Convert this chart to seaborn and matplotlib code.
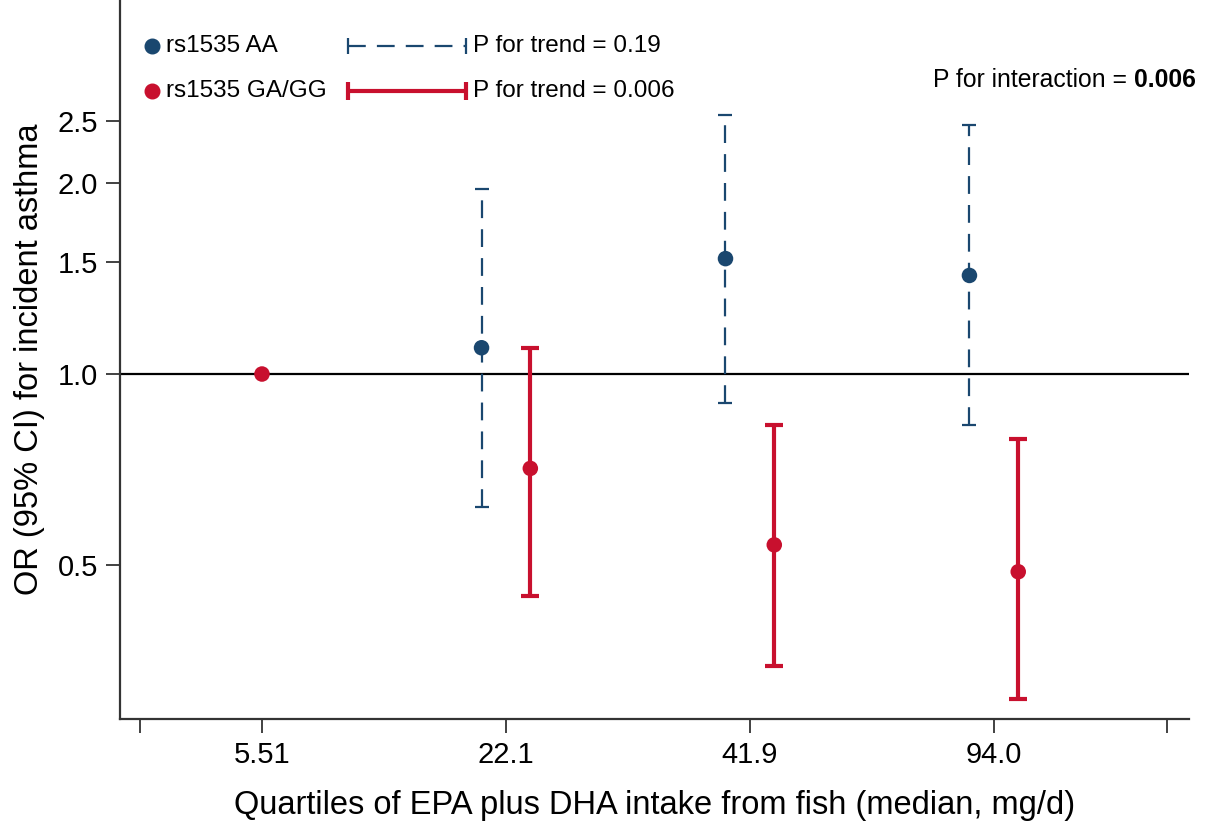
import numpy as np
import pandas as pd
import matplotlib
matplotlib.use('Agg')
import matplotlib.pyplot as plt
import seaborn as sns

# quartile medians (x tick labels)
quartile_labels = ['5.51', '22.1', '41.9', '94.0']
quartile_pos = [1, 2, 3, 4]

# rs1535 AA (quartiles 2-4, quartile 1 is the reference)
aa_q = [2, 3, 4]
aa_or = [1.10, 1.52, 1.43]
aa_lo = [0.617, 0.90, 0.83]
aa_hi = [1.96, 2.56, 2.47]

# rs1535 GA/GG
gg_q = [2, 3, 4]
gg_or = [0.71, 0.538, 0.488]
gg_lo = [0.447, 0.347, 0.308]
gg_hi = [1.10, 0.83, 0.79]

# reference group
ref_q = [1]
ref_or = [1.0]

navy = '#1a476f'
red = '#c8102e'
axis_grey = '#333333'

sns.set_style('white')
plt.rcParams['font.family'] = ['Liberation Sans', 'DejaVu Sans']
plt.rcParams['text.color'] = 'black'
plt.rcParams['axes.labelcolor'] = 'black'
plt.rcParams['xtick.color'] = 'black'
plt.rcParams['ytick.color'] = 'black'

fig = plt.figure(figsize=(12.08, 8.27), dpi=100)
ax = fig.add_axes([120 / 1208, 1 - 719 / 827, (1189 - 120) / 1208, 719 / 827])

shift = 0.1
aa_df = pd.DataFrame({'x': np.array(aa_q) - shift, 'OR': aa_or, 'lo': aa_lo, 'hi': aa_hi})
gg_df = pd.DataFrame({'x': np.array(gg_q) + shift, 'OR': gg_or, 'lo': gg_lo, 'hi': gg_hi})
ref_df = pd.DataFrame({'x': ref_q, 'OR': ref_or})

#reference line at OR = 1
ax.axhline(1.0, color='black', lw=1.6, zorder=1)

#confidence intervals
eb = ax.errorbar(aa_df['x'], aa_df['OR'],
                 yerr=[aa_df['OR'] - aa_df['lo'], aa_df['hi'] - aa_df['OR']],
                 fmt='none', ecolor=navy, elinewidth=1.6, capsize=5, capthick=1.6, zorder=2)
eb[2][0].set_linestyle((0, (8, 5)))
ax.errorbar(gg_df['x'], gg_df['OR'],
            yerr=[gg_df['OR'] - gg_df['lo'], gg_df['hi'] - gg_df['OR']],
            fmt='none', ecolor=red, elinewidth=3, capsize=6.5, capthick=3, zorder=2)

#point estimates
sns.scatterplot(data=aa_df, x='x', y='OR', color=navy, s=125, edgecolor='none', ax=ax, zorder=3)
sns.scatterplot(data=gg_df, x='x', y='OR', color=red, s=125, edgecolor='none', ax=ax, zorder=3)
sns.scatterplot(data=ref_df, x='x', y='OR', color=red, s=125, edgecolor='none', ax=ax, zorder=3)

ax.set_yscale('log')
ax.set_ylim(0.286, 3.885)
ax.set_yticks([0.5, 1.0, 1.5, 2.0, 2.5])
ax.set_yticklabels(['0.5', '1.0', '1.5', '2.0', '2.5'])
ax.yaxis.set_minor_locator(matplotlib.ticker.NullLocator())

ax.set_xlim(0.418, 4.80)
ax.set_xticks([0.5] + quartile_pos + [4.71])
ax.set_xticklabels([''] + quartile_labels + [''])

for side in ['top', 'right']:
    ax.spines[side].set_visible(False)
for side in ['left', 'bottom']:
    ax.spines[side].set_color(axis_grey)
    ax.spines[side].set_linewidth(1.6)

ax.tick_params(axis='both', which='major', direction='out', length=10, width=1.3,
               color=axis_grey, labelsize=21, pad=6, bottom=True, left=True)

ax.set_xlabel('Quartiles of EPA plus DHA intake from fish (median, mg/d)', fontsize=23.5, labelpad=15)
ax.set_ylabel('OR (95% CI) for incident asthma', fontsize=23.5, labelpad=9)

#legend drawn by hand so it looks like the original
tr = ax.transAxes
def px(xp, yp):
    return ((xp - 120) / 1069, (719 - yp) / 719)

for yp, col, lab in [(46, navy, 'rs1535 AA'), (91, red, 'rs1535 GA/GG')]:
    x0, y0 = px(152, yp)
    ax.plot([x0], [y0], 'o', color=col, ms=10.5, transform=tr, clip_on=False)
    x1, _ = px(166, yp)
    ax.text(x1, y0, lab, transform=tr, fontsize=17.5, va='center', ha='left')

xa, ya = px(348, 46)
xb, _ = px(466, 46)
ax.plot([xa, xb], [ya, ya], color=navy, lw=1.6, ls=(0, (8, 5)), transform=tr, clip_on=False)
ax.plot([xa, xb], [ya, ya], color=navy, lw=0, marker='|', ms=11, mew=1.6, transform=tr, clip_on=False)
xa, ya2 = px(348, 91)
ax.plot([xa, xb], [ya2, ya2], color=red, lw=3, transform=tr, clip_on=False)
ax.plot([xa, xb], [ya2, ya2], color=red, lw=0, marker='|', ms=13, mew=3, transform=tr, clip_on=False)

xt, _ = px(473, 46)
ax.text(xt, ya, 'P for trend = 0.19', transform=tr, fontsize=17.5, va='center', ha='left')
ax.text(xt, ya2, 'P for trend = 0.006', transform=tr, fontsize=17.5, va='center', ha='left')

xr, yr = px(1196, 80)
t1 = ax.text(xr, yr, '0.006', transform=tr, fontsize=17.8, va='center', ha='right', fontweight='bold')
fig.canvas.draw()
bb = t1.get_window_extent()
inv = ax.transAxes.inverted()
xl = inv.transform((bb.x0, 0))[0]
ax.text(xl, yr, 'P for interaction = ', transform=tr, fontsize=17.8, va='center', ha='right')

fig.savefig('out.png', dpi=100)
